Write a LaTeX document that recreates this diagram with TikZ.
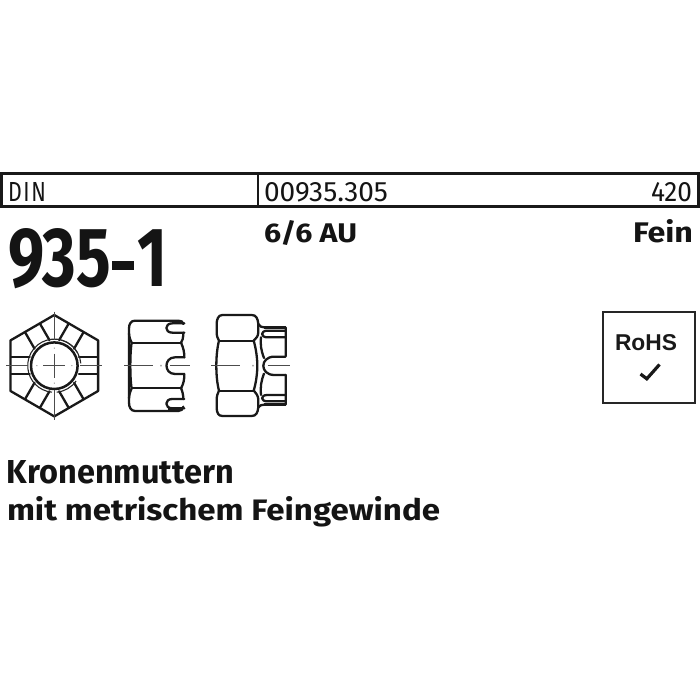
\documentclass[tikz,border=0pt]{standalone}
\usepackage{fontspec}
\usepackage{graphicx}
\setmainfont{Fira Sans}
\newfontfamily\rohsfont{Liberation Sans}
\tikzset{
  lbl/.style={anchor=base west,inner sep=0pt,outer sep=0pt,text=black!92},
  rlbl/.style={anchor=base east,inner sep=0pt,outer sep=0pt,text=black!92},
  ol/.style={line width=2.3pt,draw=black!90,line join=round,line cap=round},
  thinl/.style={line width=1pt,draw=black!70},
  framel/.style={line width=2.8pt,draw=black!90},
}
\newcommand{\fit}[3]{\resizebox{#1pt}{#2pt}{#3}}
\begin{document}
\begin{tikzpicture}[x=1pt,y=-1pt]
\useasboundingbox (0,0) rectangle (700,700);
% header frame
\draw[framel] (1.3,173.5) rectangle (698.7,206.5);
\draw[line width=1.4pt,draw=black!90] (258,173.5) -- (258,206.5);
\node[lbl] (din) at (8,201.5) {\fit{38}{19}{D\kern.08em I\kern.08em N}};
\node[lbl] (nr) at (264,201.5) {\fit{124}{19}{00935.305}};
\node[rlbl] (qty) at (692,201.5) {\fit{41}{19}{420}};
\node[lbl] (big) at (8,287) {\fit{159}{58}{\bfseries 935\kern.02em\rule[.2em]{.33em}{.11em}\kern.05em 1}};
\node[lbl] (gr) at (264,243) {\fit{93}{22}{\bfseries 6/6 AU}};
\node[rlbl] (fein) at (693,243) {\fit{60}{23}{\bfseries Fein}};
\node[lbl] (t1) at (7,483) {\fit{227}{23}{\bfseries Kronenmuttern}};
\node[lbl] (t2) at (7,520) {\fit{433}{24}{\bfseries mit metrischem Feingewinde}};
% RoHS box
\draw[line width=1.9pt,draw=black!85] (602.8,311.8) rectangle (695,403.3);
\node[anchor=base,inner sep=0pt,text=black!90] (rohs) at (646,350.5) {\fit{62}{16}{\rohsfont\bfseries RoHS}};
\draw[line width=3.2pt,draw=black!90] (640.5,374) -- (646.8,378.8) -- (659.5,364.5);
% front view of the nut
\begin{scope}[shift={(54.3,365.7)}]
  \begin{scope}
    \clip (0,-50.7) -- (43.8,-25.3) -- (43.8,25.3) -- (0,50.7) -- (-43.8,25.3) -- (-43.8,-25.3) -- cycle;
    \foreach \a in {0,60,...,300}{
      \begin{scope}[rotate=\a]
        \draw[ol] (24.6,-8.6) -- (45,-8.6);
        \draw[ol] (24.6,8.6) -- (45,8.6);
      \end{scope}
    }
  \end{scope}
  \draw[ol] (0,-50.7) -- (43.8,-25.3) -- (43.8,25.3) -- (0,50.7) -- (-43.8,25.3) -- (-43.8,-25.3) -- cycle;
  \draw[ol,line width=2.5pt] (0,0) circle (23.3);
  \draw[line width=1.1pt,draw=black!85] (-5:26.6) arc[start angle=-5,end angle=-265,radius=26.6];
  \draw[line width=1.1pt,draw=black!85] (85:26.6) arc[start angle=85,end angle=35,radius=26.6];
  \draw[line width=1.1pt,draw=black!85] (-30:26.6) arc[start angle=-30,end angle=-75,radius=26.6];
  % centre lines
  \draw[thinl] (-48,0) -- (-26,0) (-11,0) -- (11,0) (26,0) -- (48,0);
  \draw[thinl] (0,-54) -- (0,-26) (0,-12) -- (0,12) (0,24) -- (0,54);
  \fill[black!45] (-18,-.5) rectangle (-17,.5) (17,-.5) rectangle (18,.5) (-.5,-18) rectangle (.5,-17) (-.5,17) rectangle (.5,18);
\end{scope}
% side views, given in 3x-crop coordinates
\begin{scope}[shift={(115,300)},x=.3333pt,y=-.3333pt]
  % middle view
  \draw[ol] (205,72) .. controls (205,65) and (198,62) .. (190,62) -- (60,62)
     .. controls (48,62) and (42,72) .. (42,85) -- (42,308)
     .. controls (42,322) and (48,333) .. (60,333) -- (190,333)
     .. controls (198,333) and (205,328) .. (205,320);
  \draw[ol] (50,128) -- (200,128);
  \draw[ol] (50,265) -- (200,265);
  \draw[ol] (42,100) .. controls (43,115) and (47,122) .. (50,128)
     .. controls (47,145) and (46,175) .. (46,197)
     .. controls (46,220) and (47,250) .. (50,265)
     .. controls (47,272) and (43,280) .. (42,295);
  % right edge
  \draw[ol] (205,98) -- (205,105) .. controls (205,115) and (202,122) .. (198,128)
     .. controls (206,145) and (208,158) .. (208,172);
  \draw[ol] (208,222) .. controls (208,240) and (206,250) .. (198,265)
     .. controls (202,272) and (205,285) .. (205,297);
  % slots
  \draw[ol] (208,70) -- (172,70) .. controls (148,70) and (148,98) .. (172,98) -- (208,98);
  \draw[ol] (208,297) -- (172,297) .. controls (148,297) and (148,325) .. (172,325) -- (208,325);
  \draw[ol] (208,172) -- (180,172) .. controls (146,172) and (146,222) .. (180,222) -- (208,222);
  \draw[line width=3pt,draw=black!90] (160,329) -- (200,329);
  % right view
  \draw[ol] (430,72) .. controls (428,55) and (424,45) .. (410,45) -- (322,45)
     .. controls (310,45) and (305,58) .. (305,72) -- (305,95)
     .. controls (305,108) and (308,116) .. (312,122)
     .. controls (306,145) and (304,175) .. (304,197)
     .. controls (304,220) and (306,250) .. (312,272)
     .. controls (308,280) and (305,288) .. (305,300) -- (305,322)
     .. controls (305,338) and (310,348) .. (322,348) -- (410,348)
     .. controls (424,348) and (428,338) .. (430,322);
  \draw[ol] (312,122) -- (416,122);
  \draw[ol] (312,272) -- (416,272);
  \draw[ol] (430,72) -- (430,95) .. controls (430,108) and (424,116) .. (416,122)
     .. controls (423,145) and (427,175) .. (427,197)
     .. controls (427,220) and (423,250) .. (416,272)
     .. controls (424,280) and (430,288) .. (430,300) -- (430,322);
  % collar
  \draw[ol] (430,72) .. controls (434,80) and (440,82) .. (448,82) -- (512,82) -- (512,168);
  \draw[line width=3.5pt,draw=black!90] (448,82) -- (512,82);
  \draw[ol] (512,225) -- (512,314) -- (448,314) .. controls (440,314) and (434,316) .. (430,322);
  \draw[line width=3.5pt,draw=black!90] (448,314) -- (512,314);
  \draw[ol] (512,92) -- (457,92) .. controls (436,92) and (436,112) .. (457,112) -- (512,112);
  \draw[ol] (512,285) -- (457,285) .. controls (436,285) and (436,304) .. (457,304) -- (512,304);
  \draw[ol] (512,170) -- (478,170) .. controls (434,170) and (434,225) .. (478,225) -- (512,225);
  \draw[ol] (438,112) .. controls (436,135) and (438,150) .. (447,174);
  \draw[ol] (438,285) .. controls (436,260) and (438,245) .. (447,221);
  % centre lines
  \draw[thinl] (28,197) -- (115,197) (165,197) -- (224,197);
  \draw[thinl] (288,197) -- (375,197) (458,197) -- (525,197);
  \fill[black!50] (136,195) rectangle (140,199) (412,195) rectangle (416,199);
\end{scope}
\end{tikzpicture}
\end{document}
